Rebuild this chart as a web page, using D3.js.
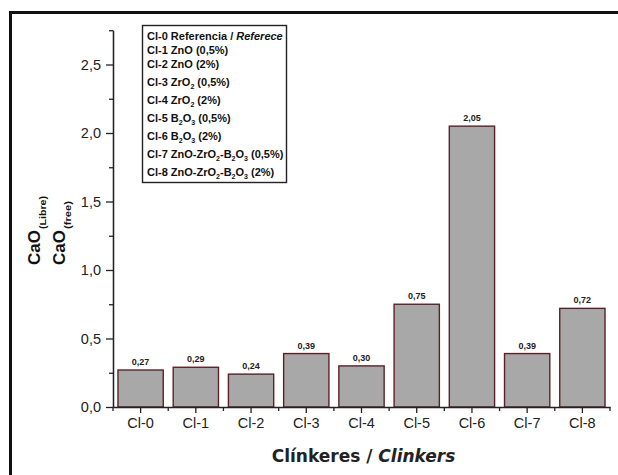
<!DOCTYPE html>
<html>
<head>
<meta charset="utf-8">
<script src="https://cdn.jsdelivr.net/npm/d3@7"></script>
<style>
  html, body { margin: 0; padding: 0; background: #fff; }
  svg { display: block; }
</style>
</head>
<body>
<svg id="chart" width="618" height="475"></svg>
<script>
// Free lime (CaO) content of each clinker
const categories = ["Cl-0", "Cl-1", "Cl-2", "Cl-3", "Cl-4", "Cl-5", "Cl-6", "Cl-7", "Cl-8"];
const values = [0.27, 0.29, 0.24, 0.39, 0.30, 0.75, 2.05, 0.39, 0.72];
const yMajorTicks = [0, 0.5, 1.0, 1.5, 2.0, 2.5];
const yMinorTicks = [0.25, 0.75, 1.25, 1.75, 2.25, 2.75];
const yMax = 2.75;

// Legend entries: "_n" marks a subscript digit, "*...*" marks italic text
const legendLabels = [
  "Cl-0 Referencia / *Referece*",
  "Cl-1 ZnO (0,5%)",
  "Cl-2 ZnO (2%)",
  "Cl-3 ZrO_2 (0,5%)",
  "Cl-4 ZrO_2 (2%)",
  "Cl-5 B_2O_3 (0,5%)",
  "Cl-6 B_2O_3 (2%)",
  "Cl-7 ZnO-ZrO_2-B_2O_3 (0,5%)",
  "Cl-8 ZnO-ZrO_2-B_2O_3 (2%)"
];

const xTitle = ["Clínkeres / ", "Clinkers"];
const yTitleMain = ["CaO", "CaO"];
const yTitleSub = ["(Libre)", "(free)"];

const comma = s => s.replace(".", ",");
const fmtTick = v => comma(d3.format(".1f")(v));
const fmtVal = v => comma(d3.format(".2f")(v));

const FONT = "'Liberation Sans', Arial, Helvetica, sans-serif";
const INK = "#222";

const svg = d3.select("#chart");

// Outer frame (only its top and left edges fall inside the view)
svg.append("rect")
  .attr("x", 10.5).attr("y", 12.5)
  .attr("width", 700).attr("height", 600)
  .attr("fill", "#fff")
  .attr("stroke", "#111")
  .attr("stroke-width", 3);

const plot = { left: 113, right: 610, top: 30.25, bottom: 407 };

const x = d3.scaleBand()
  .domain(categories)
  .range([plot.left, plot.right])
  .paddingInner(0.18)
  .paddingOuter(0.09);

const y = d3.scaleLinear()
  .domain([0, yMax])
  .range([plot.bottom, plot.top]);

// Bars
svg.append("g")
  .selectAll("rect")
  .data(values)
  .join("rect")
  .attr("x", (d, i) => x(categories[i]))
  .attr("y", d => y(d))
  .attr("width", x.bandwidth())
  .attr("height", d => y(0) - y(d))
  .attr("fill", "#a8a8a9")
  .attr("stroke", "#5a2228")
  .attr("stroke-width", 1.4);

// Value labels above bars
svg.append("g")
  .selectAll("text")
  .data(values)
  .join("text")
  .attr("x", (d, i) => x(categories[i]) + x.bandwidth() / 2)
  .attr("y", d => y(d) - 5)
  .attr("text-anchor", "middle")
  .attr("font-family", FONT)
  .attr("font-weight", "bold")
  .attr("font-size", 9)
  .attr("fill", INK)
  .text(fmtVal);

// Y axis: major ticks with labels, minor ticks between them
const yAxis = svg.append("g")
  .attr("transform", `translate(${plot.left},0)`)
  .call(d3.axisLeft(y).tickValues(yMajorTicks).tickSize(7).tickSizeOuter(0).tickPadding(5).tickFormat(fmtTick));
svg.append("g")
  .attr("transform", `translate(${plot.left},0)`)
  .call(d3.axisLeft(y).tickValues(yMinorTicks).tickSize(4).tickSizeOuter(0).tickFormat(""));

// X axis: category ticks at band centres, minor ticks at band boundaries
const xAxis = svg.append("g")
  .attr("transform", `translate(0,${plot.bottom})`)
  .call(d3.axisBottom(x).tickSize(6).tickSizeOuter(0).tickPadding(5));
const boundaries = d3.range(categories.length + 1).map(i => x.range()[0] + i * x.step());
svg.append("g")
  .selectAll("line")
  .data(boundaries)
  .join("line")
  .attr("x1", d => d).attr("x2", d => d)
  .attr("y1", plot.bottom).attr("y2", plot.bottom + 4)
  .attr("stroke", INK)
  .attr("stroke-width", 1.3);

svg.selectAll(".domain, .tick line")
  .attr("stroke", INK)
  .attr("stroke-width", 1.3);
svg.selectAll(".tick text")
  .attr("font-family", FONT)
  .attr("font-size", 14.5)
  .attr("fill", INK);

// X axis title
const xt = svg.append("text")
  .attr("x", (plot.left + plot.right) / 2 + 2)
  .attr("y", 462)
  .attr("text-anchor", "middle")
  .attr("font-family", "'DejaVu Sans', Verdana, sans-serif")
  .attr("font-weight", "bold")
  .attr("font-size", 17)
  .attr("fill", INK);
xt.append("tspan").text(xTitle[0]);
xt.append("tspan").attr("font-style", "italic").text(xTitle[1]);

// Y axis title: two rotated lines, each with a subscript
const yTitleX = [40, 65];
yTitleMain.forEach((main, i) => {
  const g = svg.append("g")
    .attr("transform", `translate(${yTitleX[i]},265) rotate(-90)`);
  const t = g.append("text")
    .attr("x", 0).attr("y", 0)
    .attr("font-family", FONT)
    .attr("font-weight", "bold")
    .attr("font-size", 17)
    .attr("fill", "#111")
    .text(main);
  const w = t.node().getComputedTextLength();
  const subLen = i === 0 ? 33 : 28;
  g.append("text")
    .attr("x", w + 1).attr("y", 6)
    .attr("font-family", FONT)
    .attr("font-weight", "bold")
    .attr("font-size", 9)
    .attr("fill", "#111")
    .attr("textLength", subLen)
    .attr("lengthAdjust", "spacingAndGlyphs")
    .text(yTitleSub[i]);
});

// Legend box
svg.append("rect")
  .attr("x", 142.5).attr("y", 25.5)
  .attr("width", 144).attr("height", 157)
  .attr("fill", "#fff")
  .attr("stroke", "#222")
  .attr("stroke-width", 1.4);

let lineY = 40;
legendLabels.forEach((label, i) => {
  const hasSub = /_\d/.test(label);
  if (i > 0) lineY += hasSub ? 18 : 14;
  const t = svg.append("text")
    .attr("x", 147).attr("y", lineY)
    .attr("font-family", FONT)
    .attr("font-weight", "bold")
    .attr("font-size", 11)
    .attr("fill", "#111");
  const parts = label.split(/(\*[^*]+\*|_\d)/).filter(p => p.length);
  let shifted = false;
  parts.forEach(p => {
    const ts = t.append("tspan");
    if (p.startsWith("_")) {
      ts.attr("dy", shifted ? 0 : 3).attr("font-size", 7).text(p.slice(1));
      shifted = true;
    } else {
      if (shifted) { ts.attr("dy", -3); shifted = false; }
      if (p.startsWith("*")) {
        ts.attr("font-style", "italic").text(p.slice(1, -1));
      } else {
        ts.text(p);
      }
    }
  });
});
</script>
</body>
</html>
